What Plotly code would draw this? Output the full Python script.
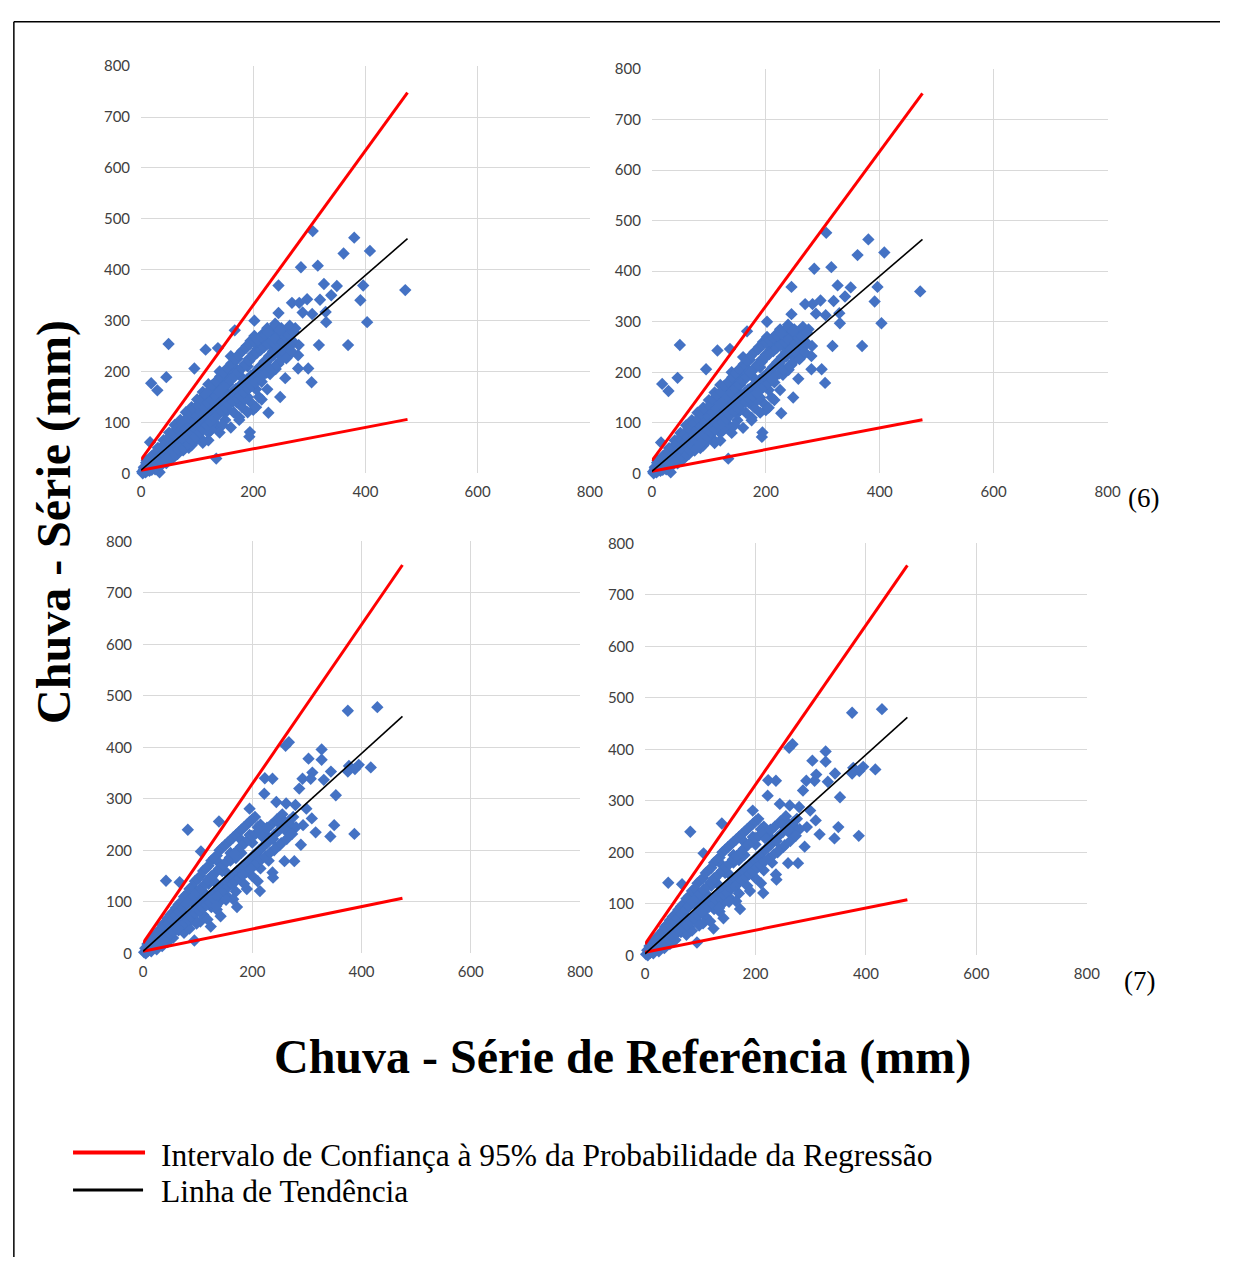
import plotly.graph_objects as go

# Window size; the page is shown with no margin, so paper coordinates map 1:1 to window pixels.
W, H = 1233, 1265


def fx(px):
    return px / W


def fy(py):
    return 1 - py / H


# ---------------- data ----------------
# Dataset shown in panels (6): reference rainfall (x) vs. series rainfall (y), mm
serie6_x = [306, 380, 361, 408, 285, 315, 245, 326, 349, 396, 471, 269, 282, 296, 319, 339, 391, 245, 288, 305,
            329, 330, 403, 202, 317, 369, 281, 239, 253, 280, 298, 304, 280, 49, 115, 137, 95, 45, 18, 29,
            167, 248, 227, 194, 193, 134, 33, 16, 257, 229,
            2, 5, 8, 10, 12, 15, 18, 20, 22, 25, 28, 30, 32, 35, 38, 40, 42, 45, 48, 50,
            52, 55, 58, 60, 62, 65, 68, 70, 72, 75, 78, 80, 82, 85, 88, 90, 92, 95, 98, 100,
            102, 105, 108, 110, 112, 115, 118, 120, 122, 125, 128, 130, 132, 135, 138, 140, 142, 145, 148, 150,
            152, 155, 158, 160, 162, 165, 168, 170, 172, 175, 178, 180, 182, 185, 188, 190, 192, 195, 198, 200,
            202, 205, 208, 210, 212, 215, 218, 220, 222, 225, 228, 230, 232, 235, 238, 240, 242, 245, 248, 250,
            255, 258, 260, 262, 265, 270, 275, 60, 75, 90, 105, 120, 135, 150, 165, 180, 195, 210, 225, 110,
            130, 150, 170, 190, 140, 120, 100, 80, 60, 160, 110, 90, 70, 50, 40, 30, 20, 10, 5, 3,
            15, 25, 35, 45, 55, 65, 85, 95, 125, 145, 175, 200, 185, 205, 215, 155, 100, 115, 135, 165,
            195, 230, 245, 250, 240, 190, 178, 148, 128, 108, 88, 68, 48, 28,
            7, 9, 13, 17, 19, 23, 26, 29, 31, 33, 36, 37, 41, 43, 44, 47, 49, 51, 53, 56,
            57, 59, 61, 63, 64, 66, 67, 69, 71, 73, 74, 76, 77, 79, 81, 83, 84, 86, 87, 89,
            91, 93, 94, 96, 97, 99, 101, 103, 104, 106, 107, 109, 111, 113, 114, 116, 117, 119, 121, 123,
            124, 126, 127, 129, 131, 133, 134, 136, 137, 139, 141, 143, 144, 146, 147, 149, 151, 153, 154, 156,
            157, 159, 161, 163, 164, 166, 167, 169, 171, 173, 174, 176, 177, 179, 181, 183, 184, 186, 187, 189,
            191, 193, 194, 196, 197, 199, 201, 203, 204, 206, 207, 209, 211, 213, 214, 216, 217, 219, 221, 223,
            224, 226, 227, 229, 231, 233, 236, 239, 241, 244, 247, 249, 252, 254, 257, 259, 263, 266, 268, 272,
            205, 215, 190, 175, 160, 140, 120]
serie6_y = [476, 463, 432, 437, 405, 408, 369, 372, 368, 369, 360, 335, 335, 342, 341, 350, 340, 315, 316, 313,
            317, 297, 297, 300, 252, 252, 252, 294, 265, 206, 206, 179, 232, 254, 243, 246, 206, 189, 177, 163,
            281, 150, 119, 81, 72, 29, 2, 61, 187, 197,
            3, 8, 2, 15, 6, 20, 10, 28, 14, 35, 18, 22, 40, 25, 45, 30, 52, 35, 60, 40,
            48, 65, 42, 70, 55, 80, 50, 62, 90, 58, 95, 70, 60, 100, 78, 110, 70, 120, 85, 105,
            75, 130, 95, 115, 140, 90, 125, 150, 100, 135, 160, 110, 145, 170, 120, 155, 180, 130, 165, 190,
            140, 175, 200, 150, 185, 210, 160, 195, 225, 165, 205, 240, 175, 215, 250, 180, 225, 260, 190, 235,
            270, 200, 245, 265, 210, 250, 275, 220, 260, 285, 230, 255, 280, 240, 270, 290, 250, 275, 260, 285,
            270, 245, 280, 230, 290, 260, 285, 35, 45, 55, 70, 80, 95, 105, 120, 130, 140, 150, 165, 60,
            100, 120, 140, 150, 200, 175, 145, 120, 95, 230, 160, 130, 105, 80, 65, 50, 35, 25, 12, 0,
            5, 8, 15, 20, 28, 38, 50, 62, 85, 95, 110, 125, 145, 165, 180, 125, 90, 100, 115, 145,
            170, 195, 215, 230, 205, 210, 190, 150, 130, 110, 90, 70, 50, 30,
            4, 21, 11, 31, 7, 26, 12, 44, 17, 33, 51, 21, 38, 58, 27, 49, 70, 33, 57, 44,
            77, 61, 36, 72, 88, 47, 63, 84, 54, 76, 98, 66, 49, 87, 108, 73, 57, 93, 118, 81,
            65, 101, 126, 88, 72, 113, 134, 97, 81, 121, 146, 104, 86, 129, 155, 112, 95, 138, 162, 118,
            101, 144, 173, 126, 108, 152, 181, 133, 115, 160, 190, 141, 122, 168, 198, 147, 128, 176, 207, 153,
            135, 183, 216, 159, 141, 191, 224, 166, 147, 199, 233, 172, 153, 207, 241, 178, 159, 214, 246, 185,
            166, 221, 254, 192, 172, 229, 259, 198, 178, 236, 263, 205, 185, 242, 268, 212, 192, 248, 272, 218,
            198, 254, 276, 225, 205, 260, 232, 265, 213, 244, 282, 222, 258, 238, 268, 226, 272, 250, 240, 278,
            130, 145, 120, 105, 90, 80, 65]

# Dataset shown in panels (7)
serie7_x = [375, 429, 267, 261, 327, 303, 327, 377, 395, 388, 417, 375, 344, 310, 292, 307, 331, 223, 237, 286,
            222, 353, 244, 262, 279, 299, 195, 309, 293, 350, 82, 139, 316, 343, 387, 289, 259, 277, 237, 238,
            214, 106, 42, 67, 172, 142, 94, 124,
            2, 4, 6, 8, 10, 12, 14, 16, 18, 20, 22, 24, 26, 28, 30, 32, 34, 36, 38, 40,
            42, 45, 48, 50, 52, 55, 58, 60, 62, 65, 68, 70, 72, 75, 78, 80, 82, 85, 88, 90,
            92, 95, 98, 100, 102, 105, 108, 110, 112, 115, 118, 120, 122, 125, 128, 130, 132, 135, 138, 140,
            142, 145, 148, 150, 152, 155, 158, 160, 162, 165, 168, 170, 172, 175, 178, 180, 182, 185, 188, 190,
            192, 195, 198, 200, 202, 205, 208, 210, 212, 215, 218, 220, 222, 225, 228, 230, 235, 240, 245, 250,
            255, 260, 265, 270, 275, 280, 65, 80, 95, 110, 125, 140, 155, 170, 185, 200, 215, 230, 150, 130,
            110, 90, 70, 50, 30, 160, 180, 200, 220, 120, 100, 60, 40, 20, 5, 15, 25, 35, 45, 55,
            75, 85, 105, 135, 165, 190, 210, 240, 250, 170, 145, 125, 105, 85, 75, 55, 140, 160, 180, 195,
            7, 9, 13, 17, 19, 23, 27, 29, 33, 37, 39, 43, 46, 49, 53, 56, 59, 63, 66, 69,
            73, 76, 79, 83, 86, 89, 93, 96, 99, 103, 106, 109, 113, 116, 119, 123, 126, 129, 133, 136,
            139, 143, 146, 149, 153, 156, 159, 163, 166, 169, 173, 176, 179, 183, 186, 189, 193, 196, 199, 203,
            206, 209, 213, 216, 219, 224, 227, 233, 238, 243, 248, 253, 258, 263, 268, 273, 118, 134, 152, 98]
serie7_y = [471, 478, 410, 403, 396, 378, 376, 364, 366, 358, 361, 353, 353, 351, 339, 339, 337, 340, 339, 320,
            310, 307, 294, 291, 288, 281, 281, 262, 249, 249, 240, 256, 235, 227, 232, 211, 179, 179, 157, 147,
            121, 198, 141, 138, 90, 72, 25, 52,
            2, 10, 3, 18, 6, 22, 10, 28, 12, 32, 16, 38, 20, 42, 24, 48, 28, 55, 30, 60,
            35, 68, 40, 75, 45, 80, 50, 88, 55, 95, 58, 100, 62, 110, 65, 115, 70, 125, 75, 130,
            80, 140, 85, 145, 90, 150, 95, 160, 100, 165, 105, 170, 110, 180, 115, 185, 120, 190, 125, 200,
            130, 205, 135, 210, 140, 215, 145, 220, 150, 225, 155, 230, 160, 235, 165, 240, 170, 245, 175, 250,
            180, 255, 185, 260, 190, 265, 195, 245, 200, 250, 205, 235, 210, 240, 215, 225, 250, 230, 260, 240,
            270, 255, 235, 250, 265, 245, 45, 55, 65, 75, 90, 100, 110, 120, 135, 150, 165, 180, 160, 140,
            120, 100, 80, 58, 35, 180, 195, 215, 230, 135, 110, 65, 45, 22, 0, 4, 8, 14, 22, 30,
            40, 48, 62, 85, 105, 125, 140, 200, 210, 185, 160, 150, 125, 100, 90, 62, 175, 195, 220, 230,
            13, 5, 21, 9, 27, 16, 36, 19, 44, 25, 52, 31, 58, 37, 66, 42, 73, 48, 81, 54,
            88, 59, 96, 65, 104, 71, 111, 77, 119, 83, 127, 88, 134, 94, 142, 99, 149, 106, 157, 111,
            164, 117, 171, 122, 178, 129, 186, 134, 193, 140, 200, 146, 207, 152, 214, 158, 221, 163, 228, 170,
            232, 176, 238, 182, 226, 188, 244, 196, 222, 205, 254, 214, 242, 222, 258, 232, 66, 92, 104, 58]

# Regression lines (end points) per panel: upper 95% limit, trend line, lower 95% limit
line_x = [0, 475]
upper6a_y = [27, 748]
trend6a_y = [6, 461]
lower6a_y = [6, 106]
upper6b_y = [25, 752]
trend6b_y = [4, 463]
lower6b_y = [4, 106]
upper7a_y = [20, 754]
trend7a_y = [4, 460]
lower7a_y = [4, 107]
upper7b_y = [22, 757]
trend7b_y = [3, 462]
lower7b_y = [6, 108]

axis_ticks = [0, 200, 400, 600, 800]
y_ticks = [0, 100, 200, 300, 400, 500, 600, 700, 800]

legend_labels = ["Intervalo de Confiança à 95% da Probabilidade da Regressão", "Linha de Tendência"]

# ---------------- figure ----------------
BLUE = "#4472C4"
RED = "#FF0000"

panels = [
    # (x px span, y px span top/bottom, dataset, upper, trend, lower)
    ((139, 594), (57, 470), (serie6_x, serie6_y), upper6a_y, trend6a_y, lower6a_y),
    ((657, 1119), (60, 470), (serie6_x, serie6_y), upper6b_y, trend6b_y, lower6b_y),
    ((141, 584), (539, 957), (serie7_x, serie7_y), upper7a_y, trend7a_y, lower7a_y),
    ((650, 1098), (541, 959), (serie7_x, serie7_y), upper7b_y, trend7b_y, lower7b_y),
]

fig = go.Figure()
layout_axes = {}
tickfont = dict(family="Lato, 'Open Sans', sans-serif", size=15, color="#404040")

for i, (xp, yp, data, up, tr, lo) in enumerate(panels, start=1):
    xa = "x" if i == 1 else f"x{i}"
    ya = "y" if i == 1 else f"y{i}"
    fig.add_trace(go.Scatter(x=data[0], y=data[1], mode="markers", xaxis=xa, yaxis=ya,
                             marker=dict(symbol="diamond", size=9.5, color=BLUE, line=dict(width=0)),
                             cliponaxis=False, showlegend=False))
    fig.add_trace(go.Scatter(x=line_x, y=up, mode="lines", xaxis=xa, yaxis=ya,
                             line=dict(color=RED, width=3), cliponaxis=False, showlegend=False))
    fig.add_trace(go.Scatter(x=line_x, y=lo, mode="lines", xaxis=xa, yaxis=ya,
                             line=dict(color=RED, width=3), cliponaxis=False, showlegend=False))
    fig.add_trace(go.Scatter(x=line_x, y=tr, mode="lines", xaxis=xa, yaxis=ya,
                             line=dict(color="black", width=1.6), cliponaxis=False, showlegend=False))
    xkey = "xaxis" if i == 1 else f"xaxis{i}"
    ykey = "yaxis" if i == 1 else f"yaxis{i}"
    layout_axes[xkey] = dict(domain=[fx(xp[0]), fx(xp[1])], range=[0, 800], anchor=ya,
                             tickvals=axis_ticks, showgrid=True, gridcolor="#d9d9d9", gridwidth=1,
                             zeroline=False, showline=False, ticks="", ticklabelstandoff=8,
                             tickfont=tickfont, fixedrange=True)
    layout_axes[ykey] = dict(domain=[fy(yp[1]), fy(yp[0])], range=[0, 800], anchor=xa,
                             tickvals=y_ticks, showgrid=True, gridcolor="#d9d9d9", gridwidth=1,
                             zeroline=False, showline=False, ticks="", ticklabelstandoff=10,
                             tickfont=tickfont, fixedrange=True)

shapes = [
    # outer frame (left and top edges)
    dict(type="line", xref="paper", yref="paper", x0=fx(10), x1=fx(10), y0=0, y1=fy(12),
         line=dict(color="black", width=1.5)),
    dict(type="line", xref="paper", yref="paper", x0=fx(10), x1=1, y0=fy(12), y1=fy(12),
         line=dict(color="black", width=1.5)),
    # legend keys
    dict(type="line", xref="paper", yref="paper", x0=fx(70), x1=fx(143), y0=fy(1159), y1=fy(1159),
         line=dict(color=RED, width=4)),
    dict(type="line", xref="paper", yref="paper", x0=fx(70), x1=fx(141), y0=fy(1197), y1=fy(1197),
         line=dict(color="black", width=3)),
]

serif_bold = dict(family="'Liberation Serif', 'Times New Roman', serif", size=48, color="black")
serif = dict(family="'Liberation Serif', 'Times New Roman', serif", size=31.5, color="black")
serif_small = dict(family="'Liberation Serif', 'Times New Roman', serif", size=27, color="black")

annotations = [
    dict(text="<b>Chuva - Série de Referência (mm)</b>", x=fx(627), y=fy(1062), xref="paper", yref="paper",
         showarrow=False, font=serif_bold, xanchor="center", yanchor="middle"),
    dict(text="<b>Chuva - Série (mm)</b>", x=fx(50), y=fy(519), xref="paper", yref="paper",
         showarrow=False, font=serif_bold, textangle=-90, xanchor="center", yanchor="middle"),
    dict(text="(6)", x=fx(1155), y=fy(495), xref="paper", yref="paper", showarrow=False,
         font=serif_small, xanchor="center", yanchor="middle"),
    dict(text="(7)", x=fx(1151), y=fy(985), xref="paper", yref="paper", showarrow=False,
         font=serif_small, xanchor="center", yanchor="middle"),
    dict(text=legend_labels[0], x=fx(157), y=fy(1162), xref="paper", yref="paper", showarrow=False,
         font=serif, xanchor="left", yanchor="middle"),
    dict(text=legend_labels[1], x=fx(157), y=fy(1199), xref="paper", yref="paper", showarrow=False,
         font=serif, xanchor="left", yanchor="middle"),
]

fig.update_layout(width=W, height=H, margin=dict(l=0, r=0, t=0, b=0), autosize=False,
                  paper_bgcolor="white", plot_bgcolor="white", showlegend=False,
                  shapes=shapes, annotations=annotations, **layout_axes)

fig.write_html("out.html", config={"displayModeBar": False})
